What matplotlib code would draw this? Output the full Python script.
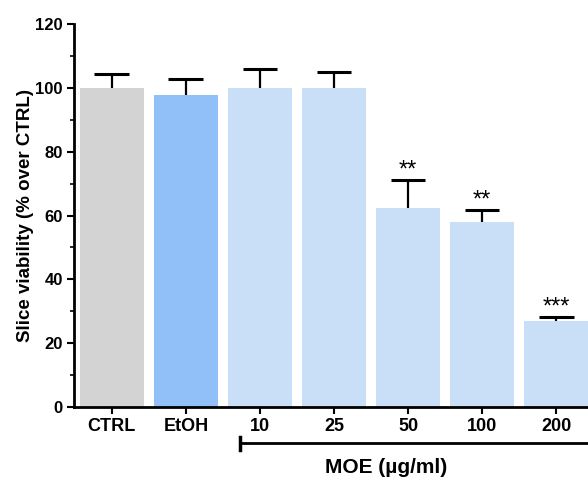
import matplotlib
matplotlib.use("Agg")
import matplotlib.pyplot as plt
import matplotlib.transforms as mtransforms
from matplotlib.ticker import MultipleLocator

categories = ["CTRL", "EtOH", "10", "25", "50", "100", "200"]
means = [100, 97.8, 100, 100, 62.4, 58.0, 26.8]
errors = [4.4, 5.0, 6.0, 5.0, 8.8, 3.8, 1.5]
stars = ["", "", "", "", "**", "**", "***"]
colors = ["#D3D3D3", "#91BFF8", "#C9DEF7", "#C9DEF7", "#C9DEF7", "#C9DEF7", "#C9DEF7"]

plt.rcParams['font.family'] = ['Liberation Sans', 'DejaVu Sans']

fig = plt.figure(figsize=(5.88, 4.82), dpi=100)
ax = fig.add_axes([0.1259, 0.1556, 0.8741, 0.7946])

x = list(range(len(categories)))
ax.bar(x, means, width=0.865, color=colors, edgecolor='none', zorder=2)
tops = [m + e for m, e in zip(means, errors)]
ax.vlines(x, means, tops, color='black', lw=1.6, zorder=3)
ax.hlines(tops, [xi - 0.235 for xi in x], [xi + 0.235 for xi in x], color='black', lw=2.2, zorder=3)
for xi, t, s in zip(x, tops, stars):
    if s:
        ax.text(xi, t - 0.6, s, ha='center', va='bottom', fontsize=17)

ax.set_xlim(-0.51, 6.43)
ax.set_ylim(0, 120)
ax.set_xticks(x)
ax.set_xticklabels(categories, fontsize=13, fontweight='bold')
ax.yaxis.set_major_locator(MultipleLocator(20))
ax.yaxis.set_minor_locator(MultipleLocator(10))
for lab in ax.get_yticklabels():
    lab.set_fontweight('bold')
    lab.set_fontsize(12)
ax.tick_params(axis='both', which='major', length=5, width=1.5, pad=3)
ax.tick_params(axis='y', which='minor', length=3, width=1.2)
ax.tick_params(axis='x', which='minor', bottom=False)
for sp in ['top', 'right']:
    ax.spines[sp].set_visible(False)
for sp in ['left', 'bottom']:
    ax.spines[sp].set_linewidth(2)
ax.set_ylabel("Slice viability (% over CTRL)", fontsize=13.5, fontweight='bold', labelpad=1)

trans = mtransforms.blended_transform_factory(ax.transData, ax.transAxes)
ax.plot([1.73, 6.5], [-0.095, -0.095], color='black', lw=2, transform=trans, clip_on=False)
ax.plot([1.73, 1.73], [-0.079, -0.111], color='black', lw=2.5, transform=trans, clip_on=False)
ax.text(3.7, -0.157, "MOE (µg/ml)", transform=trans, ha='center', va='center',
        fontsize=15, fontweight='bold')

fig.savefig("out.png", dpi=100)
